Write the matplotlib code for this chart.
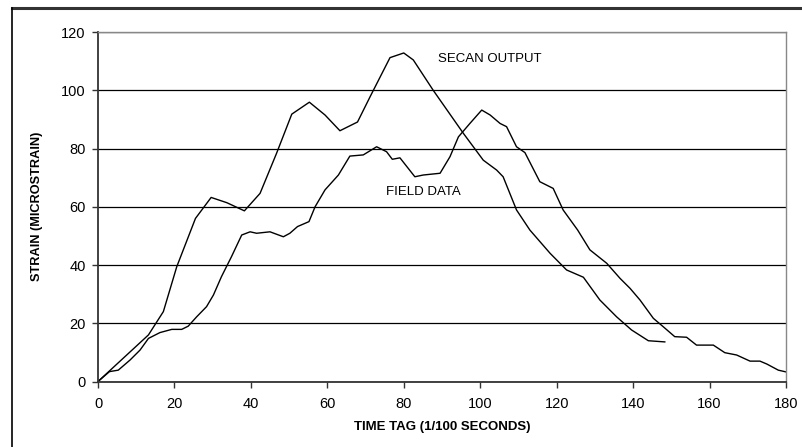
import matplotlib
matplotlib.use("Agg")
import matplotlib.pyplot as plt
from matplotlib.lines import Line2D

plt.rcParams['font.family'] = ['Liberation Sans', 'DejaVu Sans']

# SECAN output (model)
secan_t = [0, 13.2, 17.1, 20.6, 25.5, 29.6, 33.7, 38.3, 42.4, 46.7, 50.7, 55.3, 59.4, 63.3, 67.9,
           71.2, 76.4, 80, 82.5, 87.7, 95.6, 100.8, 104.3, 106, 109.5, 113, 118.3, 122.6, 127,
           131.3, 135.7, 139.6, 144, 148.3]
secan_strain = [0, 16, 24, 39.4, 56, 63.2, 61.4, 58.6, 64.6, 78.3, 91.8, 95.9, 91.5, 86.1, 89.1,
                97.8, 111.2, 112.8, 110.4, 100, 85.2, 76, 72.6, 70.3, 58.9, 52, 44, 38.3, 35.8,
                28, 22.2, 17.7, 14, 13.6]

# field measurements
field_t = [0, 3, 5.3, 8.4, 11, 13.2, 16.2, 19.3, 21.9, 23.6, 25.8, 28.4, 30.2, 32.3, 34.9,
           37.6, 39.8, 41.5, 45, 48.5, 50.2, 52.2, 55.2, 56.8, 59.4, 62.9, 65.9, 69.4, 72.9, 75.5,
           77, 79, 82.9, 85.1, 89.5, 92.1, 94.3, 97.3, 100.4, 102.6, 105.2, 106.9, 109.5, 111.7,
           115.6, 119.1, 121.7, 125.5, 128.7, 133.1, 136.6, 139.2, 141.8, 145.3, 147.9, 150.9,
           154, 156.6, 161, 164, 167.1, 170.6, 173.2, 175, 178, 180]
field_strain = [0, 3.4, 3.9, 7.4, 10.8, 14.8, 16.8, 17.9, 17.9, 19, 22.2, 25.7, 29.7, 36, 42.8,
                50.3, 51.4, 50.9, 51.4, 49.7, 50.9, 53.2, 54.9, 60, 65.8, 70.9, 77.4, 77.8, 80.6,
                78.9, 76.3, 76.8, 70.3, 70.9, 71.5, 77.2, 84, 88.6, 93.2, 91.5, 88.6, 87.5, 80.6,
                78.6, 68.6, 66.3, 58.9, 52, 45.2, 40.6, 35.4, 32, 28, 21.7, 18.8, 15.4, 15.2, 12.5,
                12.5, 9.9, 9.1, 7, 7, 6, 3.9, 3.3]

x_ticks = [0, 20, 40, 60, 80, 100, 120, 140, 160, 180]
y_ticks = [0, 20, 40, 60, 80, 100, 120]

fig = plt.figure(figsize=(8.02, 4.47), dpi=100)
ax = fig.add_axes([0.1222, 0.1465, 0.8578, 0.7819])

ax.plot(secan_t, secan_strain, color="black", lw=1.0, solid_joinstyle="round")
ax.plot(field_t, field_strain, color="black", lw=1.0, solid_joinstyle="round")

ax.set_xlim(0, 180)
ax.set_ylim(0, 120)
ax.set_xticks(x_ticks)
ax.set_yticks(y_ticks)
ax.tick_params(direction="out", length=4, width=1, labelsize=10.5, color="#333333")
ax.tick_params(axis="x", pad=7.5)
ax.tick_params(axis="y", pad=5)
ax.yaxis.grid(True, color="black", lw=0.9)
ax.set_axisbelow(True)

for s in ["left", "bottom"]:
    ax.spines[s].set_color("#333333")
    ax.spines[s].set_linewidth(1.3)
for s in ["top", "right"]:
    ax.spines[s].set_color("#888888")
    ax.spines[s].set_linewidth(1.0)

ax.text(88.9, 110.7, "SECAN OUTPUT", fontsize=9.5, va="center", ha="left")
ax.text(75.4, 65, "FIELD DATA", fontsize=9.5, va="center", ha="left")

ax.set_xlabel("TIME TAG (1/100 SECONDS)", fontsize=9.5, fontweight="bold")
ax.set_ylabel("STRAIN (MICROSTRAIN)", fontsize=9.2, fontweight="bold")
ax.xaxis.set_label_coords(0.5, -0.113)
ax.yaxis.set_label_coords(-0.080, 0.5)

# outer chart frame
fig.add_artist(Line2D([12 / 802, 1.0], [1 - 8 / 447, 1 - 8 / 447], color="#333333", lw=2.2,
                      transform=fig.transFigure))
fig.add_artist(Line2D([12 / 802, 12 / 802], [0, 1 - 8 / 447], color="black", lw=1.2,
                      transform=fig.transFigure))

fig.savefig("out.png", dpi=100)
